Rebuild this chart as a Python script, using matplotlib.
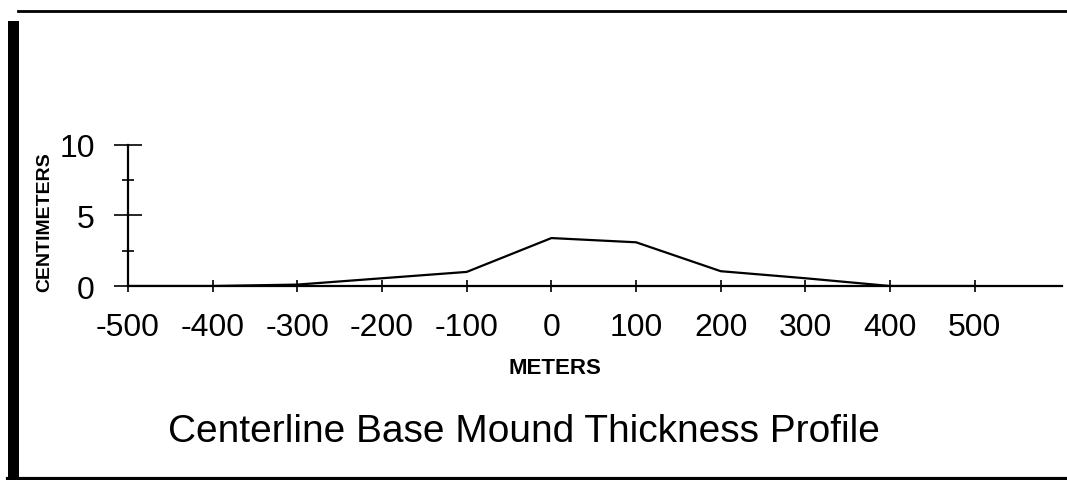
import matplotlib.pyplot as plt
from matplotlib.patches import Rectangle
from matplotlib.lines import Line2D

# distance along centerline (m) and mound thickness (cm)
meters = [-500, -400, -300, -200, -100, 0, 100, 200, 300, 400, 500]
thickness = [0, 0, 0.1, 0.55, 1.0, 3.4, 3.1, 1.05, 0.55, 0, 0]
x_ticks = [-500, -400, -300, -200, -100, 0, 100, 200, 300, 400, 500]
y_ticks = [0, 5, 10]
y_minor = [2.5, 7.5]

plt.rcParams['font.family'] = ['Liberation Sans', 'DejaVu Sans']
plt.rcParams['axes.unicode_minus'] = False

fig = plt.figure(figsize=(10.67, 4.81), dpi=100)
ax = fig.add_axes([0.120, 0.4033, 0.8753, 0.2932])

ax.plot(meters, thickness, color='black', lw=1.6)
ax.set_xlim(-500, 603)
ax.set_ylim(0, 10)

for s in ['top', 'right']:
    ax.spines[s].set_visible(False)
for s in ['left', 'bottom']:
    ax.spines[s].set_linewidth(1.6)

ax.set_xticks(x_ticks)
ax.set_xticklabels([str(v) for v in x_ticks])
ax.set_yticks(y_ticks)
ax.set_yticklabels([str(v) for v in y_ticks])
ax.set_yticks(y_minor, minor=True)

ax.tick_params(axis='x', direction='inout', length=9, width=1.2, pad=14, labelsize=23)
ax.tick_params(axis='y', which='major', direction='inout', length=20, width=1.2, pad=14, labelsize=23)
ax.tick_params(axis='y', which='minor', direction='inout', length=9, width=1.2)

fig.text(0.042, 0.538, 'CENTIMETERS', fontsize=14, fontweight='bold',
         rotation=90, ha='center', va='center')
fig.text(0.520, 0.233, 'METERS', fontsize=16, fontweight='bold',
         ha='center', va='center')

fig.text(0.491, 0.102, 'Centerline Base Mound Thickness Profile', fontsize=28,
         ha='center', va='center')

# page border from the scanned document
fig.add_artist(Rectangle((0.0075, 0.0), 0.0105, 0.954, transform=fig.transFigure,
                         color='black', lw=0))
fig.add_artist(Line2D([0.017, 1.0], [0.975, 0.975], transform=fig.transFigure,
                      color='black', lw=2))
fig.add_artist(Line2D([0.0075, 1.0], [0.003, 0.003], transform=fig.transFigure,
                      color='black', lw=3))

fig.savefig('out.png', dpi=100)
